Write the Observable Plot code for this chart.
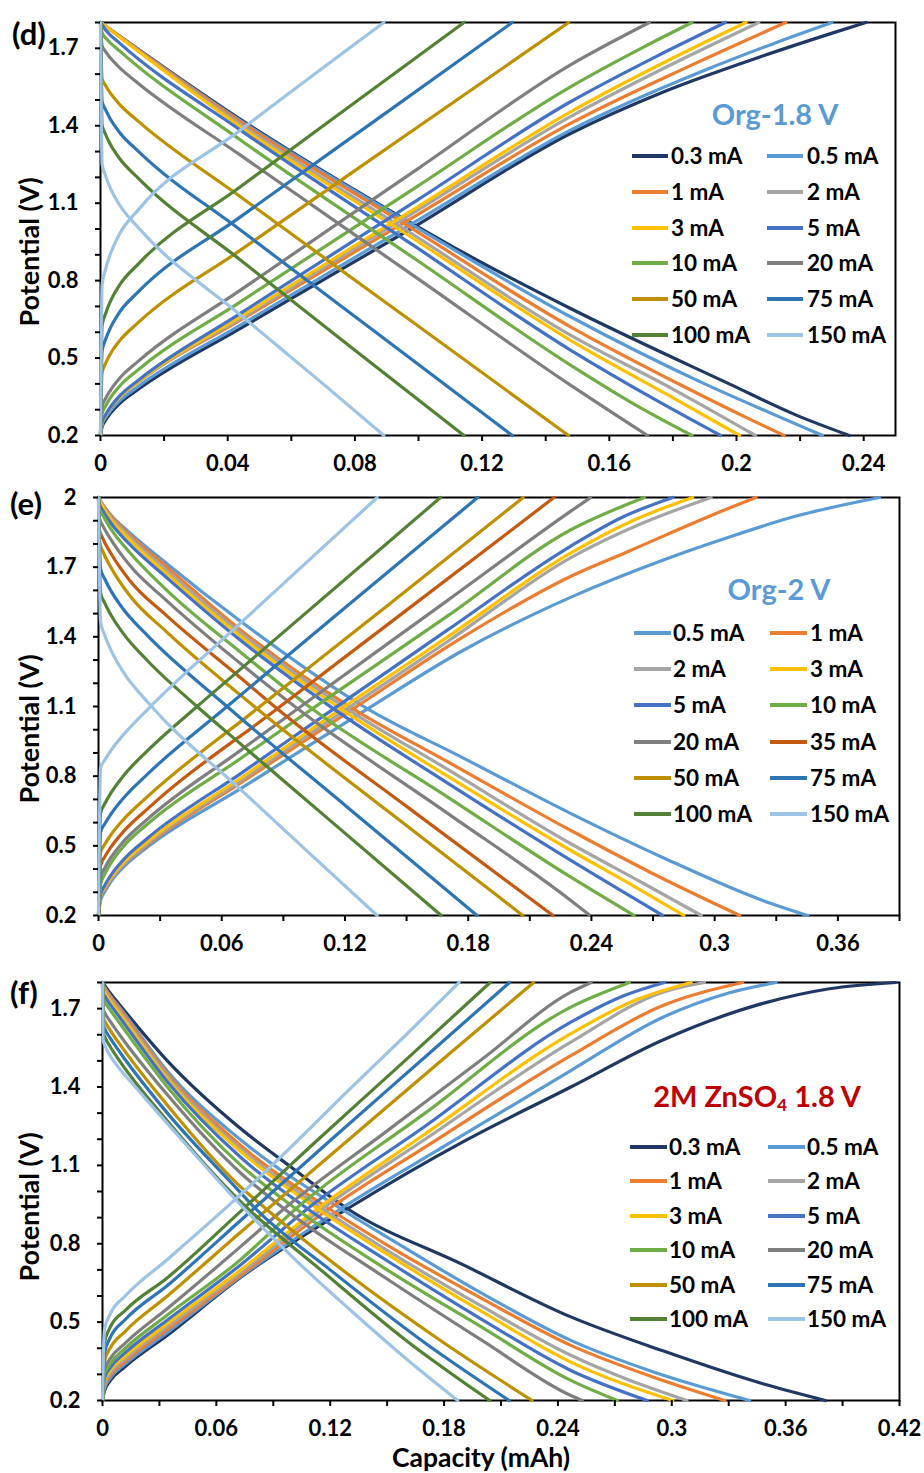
<!DOCTYPE html>
<html>
<head>
<meta charset="utf-8">
<script src="https://cdn.jsdelivr.net/npm/d3@7"></script>
<script src="https://cdn.jsdelivr.net/npm/@observablehq/plot@0.6"></script>
<style>
  body { margin: 0; background: #fff; }
  #root { position: relative; width: 924px; height: 1473px; font-family: Lato, "Open Sans", sans-serif; font-weight: 700; color: #000; overflow: hidden; }
  .abs { position: absolute; white-space: nowrap; line-height: 1; }
  svg { position: absolute; left: 0; }
</style>
</head>
<body>
<div id="root"></div>
<script>
// ---------------- DATA ----------------
const dCurrents = ["0.3 mA","0.5 mA","1 mA","2 mA","3 mA","5 mA","10 mA","20 mA","50 mA","75 mA","100 mA","150 mA"];
const eCurrents = ["0.5 mA","1 mA","2 mA","3 mA","5 mA","10 mA","20 mA","35 mA","50 mA","75 mA","100 mA","150 mA"];
const fCurrents = ["0.3 mA","0.5 mA","1 mA","2 mA","3 mA","5 mA","10 mA","20 mA","50 mA","75 mA","100 mA","150 mA"];

// Panel (d) Org-1.8 V : [capacity mAh, potential V]
const dDischarge = [
  [[0,1.8],[0.044,1.425],[0.0975,1.025],[0.1139,0.91],[0.1478,0.692],[0.1977,0.40],[0.2186,0.28],[0.2355,0.2]],
  [[0,1.8],[0.044,1.42],[0.0975,1.02],[0.1478,0.66],[0.19,0.40],[0.212,0.28],[0.227,0.2]],
  [[0,1.8],[0.044,1.415],[0.0975,1.005],[0.1478,0.621],[0.185,0.38],[0.203,0.27],[0.215,0.2]],
  [[0,1.8],[0.044,1.405],[0.0975,0.985],[0.1478,0.589],[0.18,0.38],[0.206,0.2]],
  [[0,1.8],[0.044,1.396],[0.0975,0.97],[0.1478,0.569],[0.178,0.36],[0.201,0.2]],
  [[0,1.8],[0.002,1.765],[0.006,1.72],[0.044,1.383],[0.0975,0.944],[0.1478,0.531],[0.175,0.335],[0.195,0.2]],
  [[0,1.8],[0.0005,1.76],[0.002,1.735],[0.006,1.69],[0.044,1.345],[0.1,0.875],[0.1478,0.473],[0.17,0.306],[0.186,0.2]],
  [[0,1.8],[0.0005,1.71],[0.0015,1.689],[0.003,1.664],[0.006,1.625],[0.012,1.563],[0.044,1.286],[0.1,0.806],[0.1478,0.395],[0.172,0.2]],
  [[0,1.8],[0.0005,1.583],[0.0015,1.558],[0.003,1.528],[0.006,1.483],[0.012,1.416],[0.044,1.125],[0.1,0.623],[0.1472,0.2]],
  [[0,1.8],[0.0005,1.495],[0.0015,1.464],[0.003,1.428],[0.006,1.374],[0.012,1.30],[0.044,0.996],[0.09,0.568],[0.1295,0.2]],
  [[0,1.8],[0.0005,1.402],[0.0015,1.369],[0.003,1.33],[0.006,1.273],[0.012,1.195],[0.044,0.88],[0.08,0.53],[0.1143,0.2]],
  [[0,1.8],[0.0005,1.251],[0.0015,1.209],[0.003,1.161],[0.006,1.093],[0.012,1.004],[0.044,0.667],[0.07,0.40],[0.0891,0.2]]
];
const dCharge = [
  [[0,0.2],[0.0005,0.234],[0.0015,0.257],[0.003,0.284],[0.006,0.324],[0.012,0.38],[0.044,0.615],[0.0975,1.0],[0.1478,1.37],[0.1768,1.53],[0.2082,1.67],[0.2291,1.755],[0.2407,1.8]],
  [[0,0.2],[0.0005,0.244],[0.0015,0.267],[0.003,0.294],[0.006,0.334],[0.012,0.391],[0.044,0.628],[0.1,1.035],[0.1478,1.383],[0.19,1.615],[0.212,1.72],[0.23,1.8]],
  [[0,0.2],[0.0005,0.251],[0.0015,0.277],[0.003,0.306],[0.006,0.348],[0.012,0.408],[0.044,0.647],[0.1,1.058],[0.1478,1.409],[0.185,1.63],[0.2155,1.8]],
  [[0,0.2],[0.0005,0.249],[0.0015,0.275],[0.003,0.304],[0.006,0.347],[0.012,0.408],[0.044,0.653],[0.1,1.075],[0.1478,1.435],[0.18,1.64],[0.207,1.8]],
  [[0,0.2],[0.0005,0.25],[0.0015,0.276],[0.003,0.306],[0.006,0.349],[0.012,0.41],[0.044,0.66],[0.1,1.088],[0.1478,1.454],[0.178,1.65],[0.203,1.8]],
  [[0,0.2],[0.0005,0.252],[0.0015,0.278],[0.003,0.308],[0.006,0.353],[0.012,0.415],[0.044,0.673],[0.1,1.115],[0.1478,1.493],[0.175,1.67],[0.1965,1.8]],
  [[0,0.2],[0.0005,0.284],[0.0015,0.312],[0.003,0.344],[0.006,0.391],[0.012,0.456],[0.044,0.718],[0.1,1.168],[0.1478,1.551],[0.17,1.70],[0.186,1.8]],
  [[0,0.2],[0.0005,0.312],[0.0015,0.341],[0.003,0.373],[0.006,0.422],[0.012,0.489],[0.044,0.763],[0.1,1.235],[0.1478,1.636],[0.1726,1.8]],
  [[0,0.2],[0.0005,0.444],[0.0015,0.477],[0.003,0.514],[0.006,0.567],[0.012,0.639],[0.044,0.918],[0.1,1.397],[0.1472,1.8]],
  [[0,0.2],[0.0005,0.528],[0.0015,0.569],[0.003,0.614],[0.006,0.678],[0.012,0.758],[0.044,1.047],[0.09,1.452],[0.1295,1.8]],
  [[0,0.2],[0.0005,0.626],[0.0015,0.669],[0.003,0.717],[0.006,0.783],[0.012,0.866],[0.044,1.164],[0.08,1.49],[0.1143,1.8]],
  [[0,0.2],[0.0005,0.785],[0.0015,0.84],[0.003,0.90],[0.006,0.981],[0.012,1.076],[0.044,1.383],[0.0891,1.8]]
];

// Panel (e) Org-2 V
const eDischarge = [
  [[0,2.0],[0.002,1.97],[0.006,1.925],[0.015,1.85],[0.0333,1.715],[0.069,1.468],[0.131,1.09],[0.1772,0.88],[0.2298,0.64],[0.2747,0.45],[0.3234,0.265],[0.3453,0.2]],
  [[0,2.0],[0.002,1.97],[0.006,1.922],[0.015,1.84],[0.0333,1.70],[0.069,1.431],[0.124,1.09],[0.17,0.862],[0.2298,0.567],[0.27,0.38],[0.3123,0.2]],
  [[0,2.0],[0.002,1.965],[0.006,1.915],[0.015,1.83],[0.0333,1.685],[0.069,1.418],[0.121,1.09],[0.17,0.829],[0.2298,0.51],[0.265,0.34],[0.2935,0.2]],
  [[0,2.0],[0.002,1.96],[0.006,1.905],[0.015,1.82],[0.0333,1.67],[0.069,1.404],[0.118,1.09],[0.17,0.80],[0.2298,0.481],[0.26,0.33],[0.285,0.2]],
  [[0,2.0],[0.0005,1.97],[0.002,1.945],[0.006,1.89],[0.015,1.80],[0.0333,1.654],[0.069,1.386],[0.1145,1.09],[0.17,0.77],[0.2298,0.438],[0.2747,0.2]],
  [[0,2.0],[0.0005,1.95],[0.002,1.925],[0.006,1.865],[0.015,1.765],[0.0333,1.60],[0.069,1.335],[0.104,1.09],[0.17,0.71],[0.2298,0.366],[0.2608,0.2]],
  [[0,2.0],[0.0005,1.91],[0.002,1.88],[0.006,1.82],[0.015,1.71],[0.0333,1.555],[0.069,1.286],[0.097,1.09],[0.17,0.64],[0.2298,0.266],[0.2393,0.2]],
  [[0,2.0],[0.0005,1.86],[0.002,1.825],[0.006,1.76],[0.015,1.645],[0.0333,1.49],[0.069,1.225],[0.087,1.09],[0.15,0.67],[0.2213,0.2]],
  [[0,2.0],[0.0005,1.81],[0.002,1.77],[0.006,1.70],[0.015,1.58],[0.0333,1.42],[0.069,1.15],[0.0772,1.09],[0.14,0.655],[0.2066,0.2]],
  [[0,2.0],[0.001,1.693],[0.003,1.65],[0.006,1.599],[0.012,1.52],[0.024,1.404],[0.0626,1.10],[0.12,0.675],[0.1843,0.2]],
  [[0,2.0],[0.001,1.59],[0.003,1.546],[0.006,1.495],[0.012,1.415],[0.024,1.296],[0.048,1.10],[0.069,0.94],[0.11,0.63],[0.1669,0.2]],
  [[0,2.0],[0.001,1.464],[0.003,1.408],[0.006,1.344],[0.012,1.249],[0.024,1.118],[0.069,0.744],[0.1,0.49],[0.1357,0.2]]
];
const eCharge = [
  [[0,0.2],[0.001,0.265],[0.003,0.302],[0.006,0.345],[0.012,0.407],[0.024,0.496],[0.069,0.745],[0.131,1.09],[0.1772,1.34],[0.2298,1.57],[0.2747,1.73],[0.3072,1.83],[0.3397,1.92],[0.3803,2.0]],
  [[0,0.2],[0.001,0.278],[0.003,0.313],[0.006,0.355],[0.012,0.417],[0.024,0.506],[0.069,0.77],[0.124,1.09],[0.1772,1.398],[0.2298,1.66],[0.2585,1.77],[0.3072,1.955],[0.3202,2.0]],
  [[0,0.2],[0.001,0.28],[0.003,0.316],[0.006,0.357],[0.012,0.42],[0.024,0.512],[0.069,0.78],[0.121,1.09],[0.17,1.38],[0.2298,1.74],[0.265,1.89],[0.2983,2.0]],
  [[0,0.2],[0.001,0.286],[0.003,0.322],[0.006,0.364],[0.012,0.428],[0.024,0.52],[0.069,0.79],[0.118,1.09],[0.17,1.40],[0.2298,1.76],[0.26,1.9],[0.2893,2.0]],
  [[0,0.2],[0.001,0.291],[0.003,0.329],[0.006,0.373],[0.012,0.439],[0.024,0.534],[0.069,0.81],[0.1145,1.09],[0.17,1.43],[0.2298,1.79],[0.255,1.915],[0.2796,2.0]],
  [[0,0.2],[0.001,0.335],[0.003,0.377],[0.006,0.425],[0.012,0.496],[0.024,0.595],[0.069,0.875],[0.104,1.09],[0.17,1.49],[0.2298,1.86],[0.2658,2.0]],
  [[0,0.2],[0.001,0.365],[0.003,0.404],[0.006,0.449],[0.012,0.517],[0.024,0.616],[0.069,0.91],[0.097,1.09],[0.17,1.557],[0.2298,1.94],[0.2396,2.0]],
  [[0,0.2],[0.001,0.416],[0.003,0.452],[0.006,0.494],[0.012,0.56],[0.024,0.66],[0.087,1.09],[0.15,1.515],[0.2218,2.0]],
  [[0,0.2],[0.001,0.472],[0.003,0.506],[0.006,0.547],[0.012,0.612],[0.024,0.713],[0.0772,1.09],[0.14,1.53],[0.2068,2.0]],
  [[0,0.2],[0.001,0.559],[0.003,0.594],[0.006,0.636],[0.012,0.704],[0.024,0.81],[0.0626,1.1],[0.12,1.525],[0.1846,2.0]],
  [[0,0.2],[0.001,0.641],[0.003,0.68],[0.006,0.727],[0.012,0.80],[0.024,0.911],[0.048,1.1],[0.069,1.26],[0.1665,2.0]],
  [[0,0.2],[0.001,0.837],[0.003,0.869],[0.006,0.91],[0.012,0.977],[0.024,1.088],[0.069,1.458],[0.1357,2.0]]
];

// Panel (f) 2M ZnSO4 1.8 V
const fDischarge = [
  [[0,1.8],[0.0015,1.785],[0.004,1.76],[0.009,1.715],[0.0342,1.50],[0.0729,1.24],[0.1,1.09],[0.1291,0.934],[0.1899,0.72],[0.2468,0.52],[0.2953,0.39],[0.348,0.264],[0.381,0.2]],
  [[0,1.8],[0.0003,1.79],[0.0015,1.777],[0.004,1.75],[0.009,1.705],[0.0342,1.46],[0.0729,1.197],[0.1256,0.934],[0.15,0.825],[0.2,0.61],[0.2468,0.43],[0.29,0.31],[0.341,0.2]],
  [[0,1.8],[0.0003,1.79],[0.0015,1.775],[0.004,1.748],[0.009,1.70],[0.0342,1.45],[0.0729,1.176],[0.1194,0.934],[0.15,0.795],[0.2,0.59],[0.2468,0.411],[0.29,0.29],[0.328,0.2]],
  [[0,1.8],[0.0003,1.78],[0.0015,1.765],[0.004,1.738],[0.009,1.69],[0.0342,1.44],[0.0729,1.162],[0.1159,0.934],[0.15,0.775],[0.2,0.56],[0.2468,0.373],[0.308,0.2]],
  [[0,1.8],[0.0003,1.77],[0.0015,1.755],[0.004,1.728],[0.009,1.68],[0.0342,1.43],[0.0729,1.152],[0.1133,0.934],[0.15,0.76],[0.2,0.54],[0.2468,0.347],[0.3005,0.2]],
  [[0,1.8],[0.0003,1.76],[0.0015,1.744],[0.004,1.716],[0.009,1.667],[0.0342,1.42],[0.0729,1.13],[0.108,0.934],[0.15,0.735],[0.2,0.51],[0.2468,0.315],[0.287,0.2]],
  [[0,1.8],[0.0003,1.74],[0.0015,1.722],[0.004,1.695],[0.009,1.645],[0.0342,1.40],[0.0729,1.10],[0.1019,0.934],[0.15,0.70],[0.2,0.48],[0.2468,0.277],[0.2713,0.2]],
  [[0,1.8],[0.0003,1.70],[0.0015,1.68],[0.004,1.652],[0.009,1.60],[0.0342,1.37],[0.0729,1.07],[0.0957,0.934],[0.15,0.665],[0.2,0.43],[0.2468,0.219],[0.2528,0.2]],
  [[0,1.8],[0.0003,1.67],[0.0015,1.648],[0.004,1.618],[0.009,1.565],[0.0342,1.33],[0.0729,1.017],[0.0861,0.934],[0.13,0.68],[0.18,0.42],[0.2264,0.2]],
  [[0,1.8],[0.0003,1.64],[0.0015,1.618],[0.004,1.588],[0.009,1.535],[0.0342,1.30],[0.0729,0.995],[0.0799,0.94],[0.12,0.70],[0.17,0.42],[0.2143,0.2]],
  [[0,1.8],[0.0003,1.61],[0.0015,1.587],[0.004,1.555],[0.009,1.50],[0.0342,1.27],[0.0729,0.96],[0.115,0.70],[0.16,0.43],[0.2041,0.2]],
  [[0,1.8],[0.0003,1.58],[0.0015,1.555],[0.004,1.52],[0.009,1.47],[0.0167,1.405],[0.0342,1.26],[0.052,1.115],[0.0694,0.975],[0.1,0.75],[0.13,0.55],[0.16,0.36],[0.1872,0.2]]
];
const fCharge = [
  [[0,0.2],[0.001,0.235],[0.004,0.275],[0.012,0.33],[0.0342,0.45],[0.0729,0.672],[0.1291,0.934],[0.1899,1.19],[0.2468,1.40],[0.2953,1.58],[0.348,1.72],[0.3831,1.776],[0.418,1.8]],
  [[0,0.2],[0.001,0.245],[0.004,0.285],[0.012,0.34],[0.0342,0.46],[0.0729,0.675],[0.1256,0.934],[0.17,1.13],[0.2468,1.463],[0.2953,1.667],[0.33,1.76],[0.355,1.8]],
  [[0,0.2],[0.001,0.255],[0.004,0.295],[0.012,0.35],[0.0342,0.472],[0.0729,0.68],[0.1194,0.934],[0.17,1.17],[0.2468,1.52],[0.2953,1.712],[0.3374,1.8]],
  [[0,0.2],[0.001,0.265],[0.004,0.305],[0.012,0.36],[0.0342,0.483],[0.0729,0.69],[0.1159,0.934],[0.17,1.20],[0.2468,1.572],[0.2953,1.763],[0.3172,1.8]],
  [[0,0.2],[0.001,0.275],[0.004,0.315],[0.012,0.37],[0.0342,0.494],[0.0729,0.70],[0.1133,0.934],[0.17,1.22],[0.2468,1.604],[0.28,1.73],[0.3102,1.8]],
  [[0,0.2],[0.001,0.285],[0.004,0.325],[0.012,0.383],[0.0342,0.508],[0.0729,0.72],[0.108,0.934],[0.17,1.25],[0.2468,1.648],[0.275,1.75],[0.2962,1.8]],
  [[0,0.2],[0.001,0.30],[0.004,0.34],[0.012,0.40],[0.0342,0.527],[0.0729,0.74],[0.1019,0.934],[0.17,1.30],[0.2468,1.706],[0.2777,1.8]],
  [[0,0.2],[0.001,0.32],[0.004,0.36],[0.012,0.42],[0.0342,0.552],[0.0729,0.79],[0.0957,0.934],[0.15,1.232],[0.2,1.506],[0.2468,1.763],[0.2575,1.8]],
  [[0,0.2],[0.001,0.35],[0.004,0.40],[0.012,0.465],[0.0342,0.60],[0.0729,0.845],[0.13,1.20],[0.18,1.51],[0.2272,1.8]],
  [[0,0.2],[0.001,0.38],[0.004,0.44],[0.012,0.51],[0.0342,0.64],[0.0729,0.89],[0.12,1.195],[0.17,1.515],[0.2145,1.8]],
  [[0,0.2],[0.001,0.42],[0.004,0.48],[0.012,0.545],[0.0342,0.67],[0.0729,0.925],[0.11,1.175],[0.16,1.505],[0.2043,1.8]],
  [[0,0.2],[0.001,0.47],[0.004,0.53],[0.012,0.60],[0.0342,0.74],[0.052,0.853],[0.0694,0.966],[0.1,1.175],[0.13,1.39],[0.16,1.60],[0.1879,1.8]]
];

// Axis ticks and labels
const dXTicks = [0,0.02,0.04,0.06,0.08,0.1,0.12,0.14,0.16,0.18,0.2,0.22,0.24];
const dXLabels = [0,0.04,0.08,0.12,0.16,0.2,0.24];
const dYTicks = [0.2,0.3,0.4,0.5,0.6,0.7,0.8,0.9,1.0,1.1,1.2,1.3,1.4,1.5,1.6,1.7,1.8];
const dYLabels = [0.2,0.5,0.8,1.1,1.4,1.7];
const eXTicks = [0,0.03,0.06,0.09,0.12,0.15,0.18,0.21,0.24,0.27,0.3,0.33,0.36,0.39];
const eXLabels = [0,0.06,0.12,0.18,0.24,0.3,0.36];
const eYTicks = [0.2,0.3,0.4,0.5,0.6,0.7,0.8,0.9,1.0,1.1,1.2,1.3,1.4,1.5,1.6,1.7,1.8,1.9,2.0];
const eYLabels = [0.2,0.5,0.8,1.1,1.4,1.7,2];
const fXTicks = [0,0.03,0.06,0.09,0.12,0.15,0.18,0.21,0.24,0.27,0.3,0.33,0.36,0.39,0.42];
const fXLabels = [0,0.06,0.12,0.18,0.24,0.3,0.36,0.42];
const fYTicks = [0.2,0.3,0.4,0.5,0.6,0.7,0.8,0.9,1.0,1.1,1.2,1.3,1.4,1.5,1.6,1.7,1.8];
const fYLabels = [0.2,0.5,0.8,1.1,1.4,1.7];

const dTitle = "Org-1.8 V";
const eTitle = "Org-2 V";
const fTitleParts = ["2M ZnSO", "4", " 1.8 V"];
const yTitle = "Potential (V)";
const xTitle = "Capacity (mAh)";

// ---------------- STYLE ----------------
const colorDomain = ["0.3 mA","0.5 mA","1 mA","2 mA","3 mA","5 mA","10 mA","20 mA","35 mA","50 mA","75 mA","100 mA","150 mA"];
const colorRange  = ["#203864","#5B9BD5","#ED7D31","#A5A5A5","#FFC000","#4472C4","#70AD47","#7F7F7F","#C55A11","#BF9000","#2E75B6","#548235","#9DC3E6"];
const colorOf = Object.fromEntries(colorDomain.map((c, i) => [c, colorRange[i]]));

const root = document.getElementById("root");
const tickFont = {fontSize: 22, fontWeight: "bold", fontFamily: "Lato, sans-serif"};

function makePanel(cfg) {
  const marks = [Plot.frame({stroke: "#000", strokeWidth: 2})];
  cfg.currents.forEach((c, i) => {
    for (const series of [cfg.discharge[i], cfg.charge[i]]) {
      marks.push(Plot.line(series, {
        x: p => p[0], y: p => p[1], stroke: () => c,
        strokeWidth: 3.2, curve: "monotone-x"
      }));
    }
  });
  marks.push(
    Plot.axisX(cfg.xTicks, {tickSize: 6, strokeWidth: 2, tickFormat: () => "", label: null}),
    Plot.axisX(cfg.xLabels, {tickSize: 0, tickPadding: 20, tickFormat: d => String(d), label: null, ...tickFont}),
    Plot.axisY(cfg.yTicks, {tickSize: 5, strokeWidth: 2, tickFormat: () => "", label: null}),
    Plot.axisY(cfg.yLabels, {tickSize: 0, tickPadding: 22, tickFormat: d => String(d), label: null, ...tickFont})
  );
  const svg = Plot.plot({
    width: 924, height: cfg.height,
    marginTop: cfg.mt, marginBottom: cfg.mb, marginLeft: cfg.ml, marginRight: cfg.mr,
    x: {domain: cfg.xDomain, label: null},
    y: {domain: cfg.yDomain, label: null},
    color: {domain: colorDomain, range: colorRange},
    style: {fontFamily: "Lato, sans-serif", fontSize: "22px", fontWeight: 700, color: "#000", background: "transparent", overflow: "visible"},
    marks
  });
  svg.style.top = cfg.top + "px";
  root.appendChild(svg);
}

function addText(text, x, y, size, opts = {}) {
  const el = document.createElement("div");
  el.className = "abs";
  el.style.left = x + "px";
  el.style.top = y + "px";
  el.style.fontSize = size + "px";
  if (opts.color) el.style.color = opts.color;
  el.style.transform = opts.transform || "translate(0,-50%)";
  if (opts.html) el.innerHTML = opts.html; else el.textContent = text;
  root.appendChild(el);
  return el;
}

function addLegend(currents, spec) {
  currents.forEach((c, i) => {
    const row = Math.floor(i / 2), col = i % 2;
    const y = spec.row0 + spec.gap * row;
    const sw = document.createElement("div");
    sw.className = "abs";
    sw.style.left = spec.swX[col] + "px";
    sw.style.top = (y - 2) + "px";
    sw.style.width = spec.swW + "px";
    sw.style.height = "4px";
    sw.style.background = colorOf[c];
    root.appendChild(sw);
    addText(c, spec.txX[col], y, spec.size);
  });
}

// Panels
makePanel({top: 0, height: 480, mt: 22, mb: 45, ml: 100, mr: 29,
  xDomain: [0, 0.25], yDomain: [0.2, 1.8], xTicks: dXTicks, xLabels: dXLabels, yTicks: dYTicks, yLabels: dYLabels,
  currents: dCurrents, discharge: dDischarge, charge: dCharge});
makePanel({top: 480, height: 480, mt: 17, mb: 45, ml: 98, mr: 25,
  xDomain: [0, 0.39], yDomain: [0.2, 2.0], xTicks: eXTicks, xLabels: eXLabels, yTicks: eYTicks, yLabels: eYLabels,
  currents: eCurrents, discharge: eDischarge, charge: eCharge});
makePanel({top: 960, height: 513, mt: 22, mb: 73, ml: 102, mr: 25,
  xDomain: [0, 0.42], yDomain: [0.2, 1.8], xTicks: fXTicks, xLabels: fXLabels, yTicks: fYTicks, yLabels: fYLabels,
  currents: fCurrents, discharge: fDischarge, charge: fCharge});

// Panel letters
addText("(d)", 12, 33, 31);
addText("(e)", 10, 503, 31);
addText("(f)", 10, 992, 31);

// Y titles
for (const cy of [252, 729, 1207]) {
  addText(yTitle, 28, cy, 27, {transform: "translate(-50%,-50%) rotate(-90deg)"});
}
// X title
addText(xTitle, 481, 1457, 26.5, {transform: "translate(-50%,-50%)"});

// Legend titles
addText(dTitle, 775, 113, 29, {color: "#5B9BD5", transform: "translate(-50%,-50%)"});
addText(eTitle, 779, 588, 29, {color: "#5B9BD5", transform: "translate(-50%,-50%)"});
addText("", 757, 1097, 29, {color: "#C00000", transform: "translate(-50%,-50%)",
  html: fTitleParts[0] + "<sub style='font-size:0.6em;vertical-align:-0.25em'>" + fTitleParts[1] + "</sub>" + fTitleParts[2]});

// Legends
addLegend(dCurrents, {row0: 156, gap: 35.8, swX: [632, 767], swW: 36, txX: [671, 807], size: 22.5});
addLegend(eCurrents, {row0: 633, gap: 36.2, swX: [634, 770], swW: 37, txX: [673, 810], size: 22.5});
addLegend(fCurrents, {row0: 1147, gap: 34.4, swX: [630, 768], swW: 37, txX: [669, 807], size: 22.5});
</script>
</body>
</html>
